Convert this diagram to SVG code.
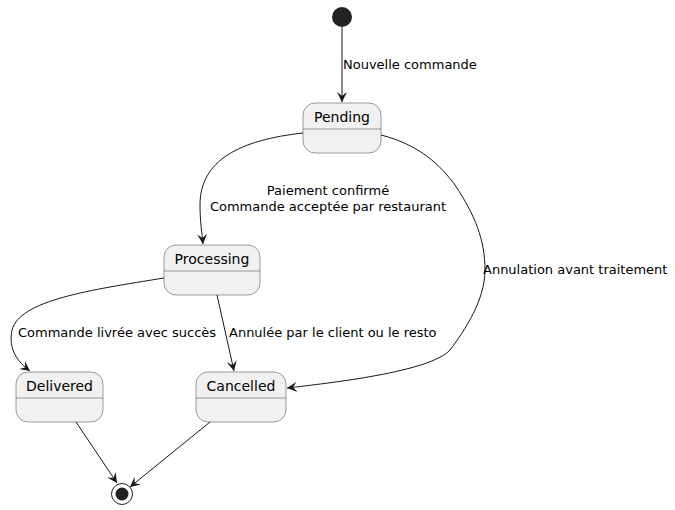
<svg xmlns="http://www.w3.org/2000/svg" width="675" height="510" viewBox="0 0 675 510">
<style>
.st rect{fill:#f1f1f1;stroke:#5b5b5b;stroke-width:0.6}
.st line{stroke:#5b5b5b;stroke-width:0.6}
.nm{font-family:"DejaVu Sans",sans-serif;font-size:14px;fill:#000;text-anchor:middle}
.lb{font-family:"DejaVu Sans",sans-serif;font-size:13px;fill:#000}
.e path{fill:none;stroke:#181818;stroke-width:1}
</style>
<defs>
<marker id="ar" markerWidth="12" markerHeight="10" refX="10" refY="5" orient="auto" markerUnits="userSpaceOnUse">
<path d="M0,0 L10,5 L0,10 L4,5 Z" fill="#181818"/>
</marker>
</defs>
<rect width="675" height="510" fill="#fff"/>
<g id="start"><circle cx="342" cy="17" r="10" fill="#222"/></g>
<g id="Pending" class="st"><rect x="303" y="103" width="78" height="50" rx="12"/><line x1="303" y1="129" x2="381" y2="129"/><text class="nm" x="342" y="122">Pending</text></g>
<g id="Processing" class="st"><rect x="164" y="245" width="96" height="50" rx="12"/><line x1="164" y1="271" x2="260" y2="271"/><text class="nm" x="212" y="264">Processing</text></g>
<g id="Delivered" class="st"><rect x="16" y="372" width="87" height="50" rx="12"/><line x1="16" y1="398" x2="103" y2="398"/><text class="nm" x="59.5" y="391">Delivered</text></g>
<g id="Cancelled" class="st"><rect x="196" y="372" width="90" height="50" rx="12"/><line x1="196" y1="398" x2="286" y2="398"/><text class="nm" x="241" y="391">Cancelled</text></g>
<g id="end"><circle cx="122" cy="494" r="10.5" fill="none" stroke="#222" stroke-width="1"/><circle cx="122" cy="494" r="6.5" fill="#222"/></g>
<g id="connectors" class="e">
<path d="M342,27 L342,102" marker-end="url(#ar)"/>
<path d="M303,133 C240,140 200,160 200,205 C200,222 202,233 203,244" marker-end="url(#ar)"/>
<path d="M381,135 C420,145 440,165 455,185 C475,215 485,240 485,270 C485,300 465,330 450,350 C430,372 330,383 287,388" marker-end="url(#ar)"/>
<path d="M164,278 C90,290 20,300 12,330 C8,350 18,362 30,371" marker-end="url(#ar)"/>
<path d="M217,295 L234,371" marker-end="url(#ar)"/>
<path d="M76,422 L117,483" marker-end="url(#ar)"/>
<path d="M210,422 L130,487" marker-end="url(#ar)"/>
</g>
<g id="labels">
<text class="lb" x="343" y="69">Nouvelle commande</text>
<text class="lb" x="328" y="195" text-anchor="middle">Paiement confirmé</text>
<text class="lb" x="328" y="211" text-anchor="middle">Commande acceptée par restaurant</text>
<text class="lb" x="483" y="274">Annulation avant traitement</text>
<text class="lb" x="18" y="337">Commande livrée avec succès</text>
<text class="lb" x="229" y="337">Annulée par le client ou le resto</text>
</g>
</svg>
